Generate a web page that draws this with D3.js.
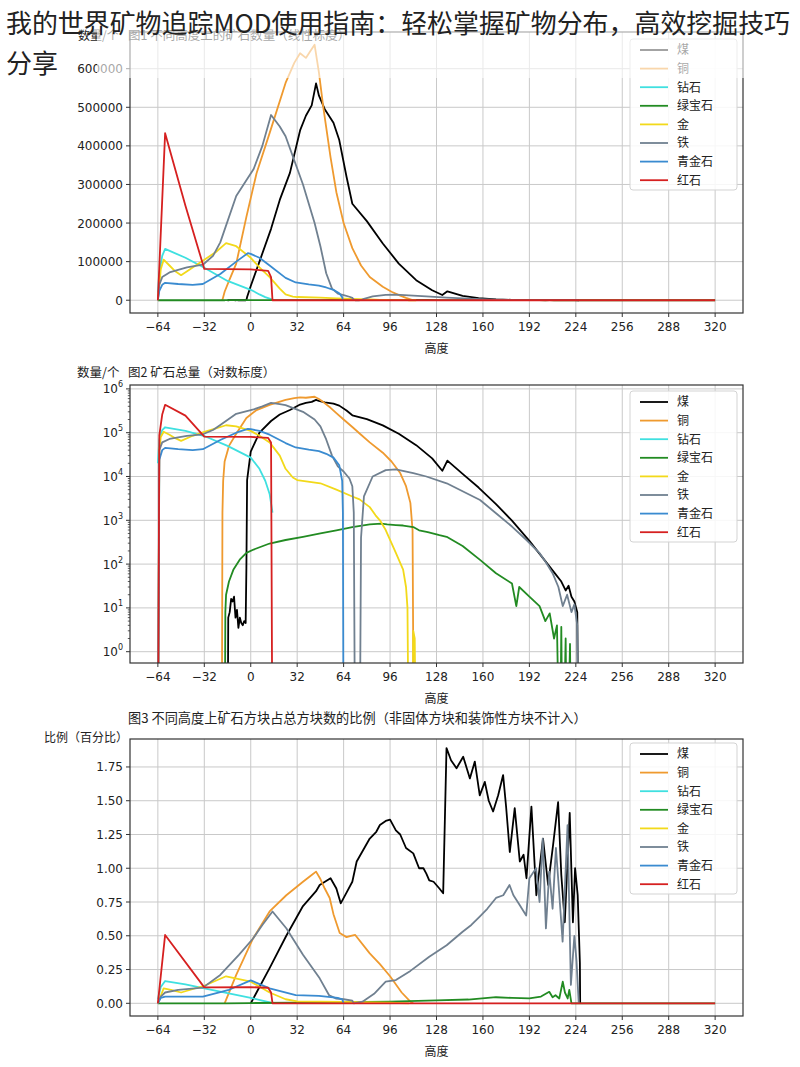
<!DOCTYPE html>
<html><head><meta charset="utf-8">
<script src="https://cdn.jsdelivr.net/npm/d3@7"></script>
<style>body{margin:0;background:#fff}svg{display:block}</style>
</head><body><svg id="c" width="800" height="1067"></svg>
<script>
// ---------- DATA ----------
const xTicks = [-64,-32,0,32,64,96,128,160,192,224,256,288,320];
const linTicks = [0,100000,200000,300000,400000,500000,600000];
const logTicks = [1,10,100,1000,10000,100000,1000000];
const pctTicks = [0,0.25,0.5,0.75,1.0,1.25,1.5,1.75];
const oreNames = ["煤","铜","钻石","绿宝石","金","铁","青金石","红石"];

// counts per height [height, count]
const coal = [[-16,0],[-15.5,6],[-14.5,8],[-13.5,16],[-12.5,14],[-11.5,18],[-10.5,6],[-9.5,9],[-8.5,3.5],[-7.5,6],[-6.5,4.5],[-5.5,4],[-4.5,5],[-3.5,4.5],[-3,80],[-2.5,8300],[0,37000],[6,100000],[14,185000],[20,260000],[27,330000],[34,440000],[38,478000],[42,505000],[45,562000],[47,530000],[51,495000],[57,460000],[61,415000],[66,320000],[70,250000],[80,205000],[91,147000],[102,95000],[114,52000],[125,26000],[132,13500],[135.5,23000],[146,11500],[157,5600],[169,2350],[180,980],[192,340],[203,117],[210,59],[214,40],[217,25],[219,32],[221,18],[223,14],[225,8],[226,0]];
const copper = [[-20,0],[-19.5,1500],[-19,8000],[-18,22000],[-15,50000],[-10,95000],[-3,216000],[4,329000],[13,433000],[24,563000],[30,615000],[34,640000],[38,628000],[41,645000],[44,662000],[47,590000],[50,500000],[55,370000],[59,280000],[64,200000],[70,135000],[76,90000],[82,60000],[91,35000],[97,22000],[103,12000],[107,6000],[110,2500],[111.5,600],[112.5,0]];
const diamond = [[-64,20000],[-63,70000],[-61,115000],[-59,133000],[-45,110000],[-32,84000],[-16,50000],[0,27000],[6,15000],[10,8000],[13,4000],[15,1500]];
const emerald = [[-64,0],[-18,0],[-17.5,8],[-17,20],[-15,40],[-12,74],[-7.6,126],[-3,180],[2,215],[13,295],[24,355],[36,420],[48,500],[59,590],[70,700],[82,810],[90,840],[94,810],[100,780],[105,760],[112,700],[116,590],[122,540],[130,460],[135,420],[146,260],[158,125],[169,62],[180,36],[183,11],[185,30],[192,18],[199,11],[203,5],[206,7.5],[209,2],[211,4],[213,0],[214,3.7],[215,0],[217,2],[218,0],[220,1.5],[221,0],[320,0]];
const gold = [[-64,0],[-63,40000],[-62,80000],[-60,105000],[-56,90000],[-52,75000],[-48,65000],[-40,85000],[-32,105000],[-24,125000],[-17,148000],[-10,140000],[0,110000],[6,85000],[13,60000],[20,30000],[24,15000],[29,9500],[32,8300],[48,7000],[59,5000],[70,3500],[75,3000],[82,2000],[86,1300],[89,1000],[93,600],[97,300],[100,180],[105,75],[107,30],[108,10],[109,0],[111,0],[112,3],[113,2],[114,0]];
const iron = [[-64,0],[-63,40000],[-61,60000],[-56,72000],[-44,85000],[-33,92000],[-26,115000],[-21,150000],[-10,270000],[2,340000],[8,400000],[14,480000],[20,450000],[24,425000],[36,300000],[44,200000],[48,140000],[52,70000],[56,30000],[60,17000],[64,13000],[68,9000],[70,6000],[71,1500],[72,0],[75,0],[76,400],[78,3500],[84,10000],[93,14000],[100,14500],[112,12000],[121,10000],[135,7000],[158,2900],[169,1450],[180,720],[190,355],[199,178],[203,115],[208,62],[212,30],[215,11],[218,20],[221,8],[223,12],[225,4],[226,0]];
const lapis = [[-64,0],[-63,24000],[-61,40000],[-59,45000],[-50,42000],[-40,40000],[-33,42000],[-21,68000],[-10,100000],[-2,122000],[0,120000],[6,110000],[13,90000],[24,58000],[31,46000],[40,41000],[47,38000],[52,33000],[57,27000],[61,18000],[63,8000],[63.5,1500],[64,0]];
const redstone = [[-64,0],[-63,87000],[-61,260000],[-59,433000],[-45,245000],[-32,81000],[0,80000],[12,76000],[14,60000],[15,0],[320,0]];

// percentage of all blocks per height [height, %]
const coalPct = [[0,0],[13,0.26],[24.5,0.5],[36,0.72],[45,0.83],[47.5,0.876],[55,0.926],[59,0.85],[62,0.74],[66,0.82],[70,0.9],[73,1.05],[82,1.22],[86.5,1.27],[89,1.32],[93,1.35],[96,1.36],[100,1.28],[103,1.25],[107,1.15],[112,1.11],[116,1.0],[119,1.0],[121,0.96],[123,0.91],[126,0.9],[130,0.85],[132.6,0.815],[134.9,1.89],[138,1.8],[141.8,1.74],[146.4,1.826],[151,1.665],[154.4,1.79],[157.8,1.54],[161.3,1.64],[164,1.5],[167,1.42],[170.5,1.54],[173.9,1.69],[176,1.45],[178.5,1.12],[181.9,1.445],[185.4,1.05],[188,1.1],[190,0.926],[193.4,1.457],[196.8,0.8],[199,1.0],[201.4,1.22],[204.9,0.876],[208.3,1.17],[211.8,1.49],[214,0.95],[216.4,0.6],[219.8,1.41],[222,0.6],[223.5,1.0],[225.3,0.8],[226.8,0.3],[227,0]];
const copperPct = [[-18,0],[-10,0.21],[1.6,0.48],[13,0.68],[24.5,0.8],[36,0.9],[42,0.95],[45,0.975],[48,0.92],[51,0.85],[54.4,0.78],[57,0.66],[61.3,0.52],[63.6,0.506],[66,0.49],[69,0.5],[72,0.506],[82,0.37],[89,0.29],[96,0.2],[104,0.08],[110,0.012],[112,0]];
const diamondPct = [[-64,0.03],[-62,0.12],[-59,0.165],[-45,0.14],[-32,0.11],[-16,0.075],[0,0.04],[8,0.02],[14,0.005]];
const emeraldPct = [[-64,0],[-17,0],[0,0.002],[32,0.004],[64,0.008],[96,0.013],[128,0.022],[150,0.028],[169,0.045],[180,0.04],[192,0.036],[200,0.05],[205.7,0.085],[208,0.045],[210,0.06],[212.6,0.036],[215,0.16],[216.5,0.08],[218.4,0.036],[219.5,0.1],[221,0],[320,0]];
const goldPct = [[-64,0],[-60,0.11],[-55,0.1],[-48,0.08],[-32,0.13],[-17,0.2],[0,0.16],[13,0.08],[24,0.03],[32,0.015],[64,0.01],[96,0.004],[109,0]];
const ironPct = [[-64,0],[-62,0.05],[-59,0.08],[-50,0.1],[-33,0.116],[-21,0.21],[-8,0.36],[1.6,0.48],[8,0.58],[15,0.68],[24.5,0.556],[36,0.36],[47.5,0.185],[54,0.06],[59,0.035],[64,0.03],[70,0.02],[71,0],[77,0.012],[85,0.07],[93,0.16],[100,0.172],[110,0.24],[123,0.345],[135,0.43],[146,0.53],[152,0.58],[157.6,0.64],[163,0.7],[169,0.78],[174,0.8],[178.3,0.876],[181,0.8],[185.2,0.73],[189.8,0.65],[192,0.926],[196.6,1.0],[199,0.75],[201.2,1.22],[203.4,0.555],[205.7,0.975],[208,0.7],[210.3,1.15],[212,0.9],[214.9,0.456],[218.3,1.32],[220.6,0.136],[223,0.5],[224.5,0.31],[226,0]];
const lapisPct = [[-64,0],[-62,0.04],[-59,0.05],[-33,0.05],[-15,0.1],[0,0.17],[13,0.11],[31,0.06],[47,0.055],[60,0.04],[63,0.03],[64,0]];
const redstonePct = [[-64,0],[-59,0.506],[-32,0.118],[0,0.12],[12,0.115],[14,0.08],[15,0],[320,0]];

// ---------- STYLE ----------
const oreColors = ["#000000","#ef9a2f","#3fe0e0","#228b22","#f2d91a","#708090","#3a8bd0","#d62020"];
const countSeries = [coal,copper,diamond,emerald,gold,iron,lapis,redstone];
const pctSeries = [coalPct,copperPct,diamondPct,emeraldPct,goldPct,ironPct,lapisPct,redstonePct];

const svg = d3.select("#c");
svg.append("rect").attr("width",800).attr("height",1067).attr("fill","#fff");
const CJK = "'Noto Sans CJK SC', 'Noto Sans', sans-serif";
const NUM = "'DejaVu Sans', sans-serif";

const L = 130, R = 743;
const x = d3.scaleLinear().domain([-64-19.2, 320+19.2]).range([L, R]);

function panel(cfg, id){
  const {top, bottom, y, data, yTicks, fmt, minor, legendTop} = cfg;
  const g = svg.append("g");
  g.append("clipPath").attr("id","clip"+id).append("rect")
    .attr("x",L).attr("y",top).attr("width",R-L).attr("height",bottom-top);
  g.selectAll(null).data(xTicks).enter().append("line")
    .attr("x1",d=>x(d)).attr("x2",d=>x(d)).attr("y1",top).attr("y2",bottom)
    .attr("stroke","#c9c9c9").attr("stroke-width",1);
  g.selectAll(null).data(yTicks).enter().append("line")
    .attr("x1",L).attr("x2",R).attr("y1",d=>y(d)).attr("y2",d=>y(d))
    .attr("stroke","#c9c9c9").attr("stroke-width",1);
  const lg = g.append("g").attr("clip-path","url(#clip"+id+")");
  const line = d3.line().x(d=>x(d[0])).y(d=>y(cfg.clampV(d[1])));
  data.forEach((s,i)=>{
    lg.append("path").attr("d",line(s)).attr("fill","none")
      .attr("stroke",oreColors[i]).attr("stroke-width",1.8)
      .attr("stroke-linejoin","round");
  });
  g.append("rect").attr("x",L).attr("y",top).attr("width",R-L).attr("height",bottom-top)
    .attr("fill","none").attr("stroke","#333").attr("stroke-width",1.2);
  xTicks.forEach(t=>{
    g.append("line").attr("x1",x(t)).attr("x2",x(t)).attr("y1",bottom).attr("y2",bottom+4)
      .attr("stroke","#333");
    g.append("text").attr("x",x(t)).attr("y",bottom+18).attr("text-anchor","middle")
      .attr("font-family",NUM).attr("font-size",12).attr("fill","#222")
      .text(t<0 ? "\u2212"+Math.abs(t) : t);
  });
  g.append("text").attr("x",(L+R)/2).attr("y",bottom+40).attr("text-anchor","middle")
    .attr("font-family",CJK).attr("font-size",12).attr("fill","#222").text("高度");
  yTicks.forEach(t=>{
    g.append("line").attr("x1",L-4).attr("x2",L).attr("y1",y(t)).attr("y2",y(t)).attr("stroke","#333");
    fmt(g.append("text").attr("x",L-7).attr("y",y(t)+4.5).attr("text-anchor","end")
      .attr("font-family",NUM).attr("font-size",12).attr("fill","#222"), t);
  });
  if(minor){
    minor.forEach(t=>{
      g.append("line").attr("x1",L-2.2).attr("x2",L).attr("y1",y(t)).attr("y2",y(t)).attr("stroke","#333").attr("stroke-width",0.8);
    });
  }
  const lgd = g.append("g");
  lgd.append("rect").attr("x",630).attr("y",legendTop).attr("width",107).attr("height",151)
    .attr("rx",3).attr("fill","#fff").attr("fill-opacity",0.85).attr("stroke","#d3d3d3");
  oreNames.forEach((n,i)=>{
    const yy = legendTop + 11 + i*18.6;
    lgd.append("line").attr("x1",640).attr("x2",668).attr("y1",yy).attr("y2",yy)
      .attr("stroke",oreColors[i]).attr("stroke-width",1.8);
    lgd.append("text").attr("x",677).attr("y",yy+4.3).attr("font-family",CJK)
      .attr("font-size",12).attr("fill","#222").text(n);
  });
  return g;
}

const maxCount = d3.max(countSeries, s=>d3.max(s, d=>d[1]));
const y1 = d3.scaleLinear().domain([-0.05*maxCount, 1.05*maxCount]).range([313,32]);
panel({top:32,bottom:313,y:y1,data:countSeries,yTicks:linTicks,
  fmt:(t,v)=>t.text(v), clampV:v=>v, legendTop:39},1);

const y2 = d3.scaleLog().domain([Math.pow(10,-0.258), Math.pow(10,6.089)]).range([663,385]);
const minorTicks = [];
logTicks.slice(0,-1).forEach(b=>{ for(let k=2;k<10;k++) minorTicks.push(b*k); });
panel({top:385,bottom:663,y:y2,data:countSeries,yTicks:logTicks,minor:minorTicks,
  fmt:(t,v)=>{ t.text("10"); t.append("tspan").attr("dy",-6).attr("font-size",8).text(Math.round(Math.log10(v))); },
  clampV:v=> v>0 ? v : 1e-3, legendTop:391},2);

const y3 = d3.scaleLinear().domain([-0.094, 1.957]).range([1016,739]);
panel({top:739,bottom:1016,y:y3,data:pctSeries,yTicks:pctTicks,
  fmt:(t,v)=>t.text(d3.format(".2f")(v)), clampV:v=>v, legendTop:743},3);

function txt(xp, yp, s, size, anchor){
  return svg.append("text").attr("x",xp).attr("y",yp).attr("font-family",CJK)
    .attr("font-size",size).attr("fill","#222").attr("text-anchor",anchor||"start").text(s);
}
txt(78, 40, "数量/个", 12);
txt(128, 40, "图1 不同高度上的矿石数量（线性标度）", 12.5);
txt(77, 377, "数量/个", 12.5);
txt(128, 377, "图2 矿石总量（对数标度）", 12.5);
txt(128, 723, "图3 不同高度上矿石方块占总方块数的比例（非固体方块和装饰性方块不计入）", 13.2);
txt(44, 742, "比例（百分比）", 12);

// page title overlay (covers the top of figure 1, as in the reference)
svg.append("rect").attr("x",97).attr("y",0).attr("width",703).attr("height",78)
  .attr("fill","#fff").attr("opacity",0.6);
svg.append("rect").attr("x",0).attr("y",0).attr("width",97).attr("height",30)
  .attr("fill","#fff").attr("opacity",0.6);
const title = svg.append("text").attr("font-family",CJK).attr("font-size",26).attr("fill","#222");
title.append("tspan").attr("x",6).attr("y",33)
  .attr("textLength",784).attr("lengthAdjust","spacingAndGlyphs")
  .text("我的世界矿物追踪MOD使用指南：轻松掌握矿物分布，高效挖掘技巧");
title.append("tspan").attr("x",6).attr("y",73).text("分享");
</script></body></html>
